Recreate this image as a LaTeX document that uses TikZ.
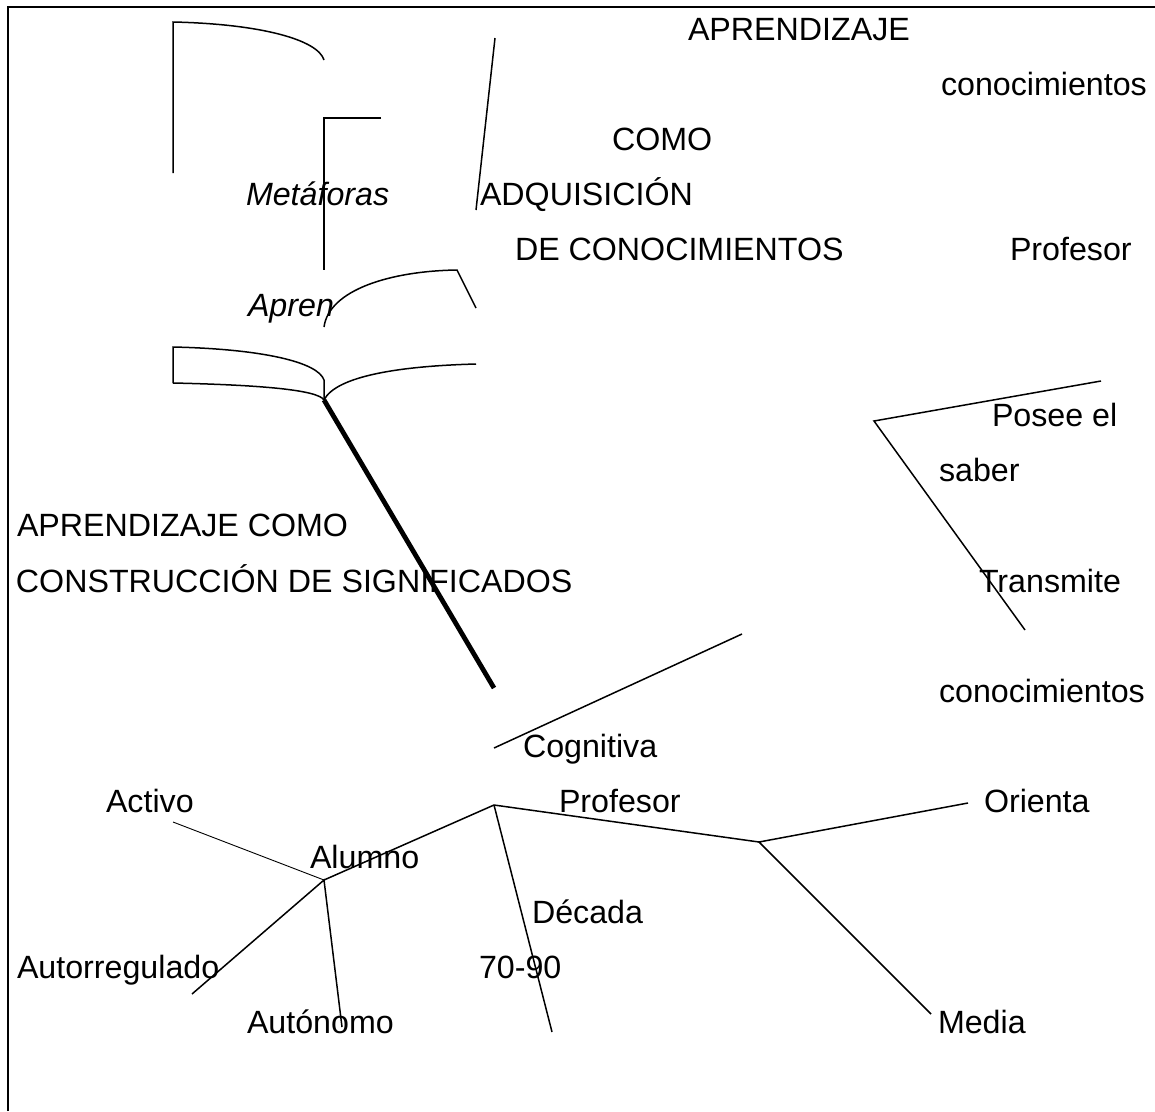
\documentclass[tikz,border=0pt]{standalone}
\usepackage{fontspec}
\setmainfont{Liberation Sans}
\begin{document}
\begin{tikzpicture}[x=1pt,y=-1pt,
  lbl/.style={anchor=base west,inner sep=0pt,outer sep=0pt,font=\fontsize{32.2}{38}\selectfont},
  ilbl/.style={lbl,font=\fontsize{32.2}{38}\selectfont\itshape},
  ln/.style={line width=1.5pt,line join=miter},
  fine/.style={line width=0.9pt},
  heavy/.style={line width=4.8pt},
  frame/.style={line width=2.4pt}]
\useasboundingbox (0,0) rectangle (1155,1111);

% ---- labels ----
\node[lbl]  (aprTop)   at (688,40)     {APRENDIZAJE};
\node[lbl]  (conTop)   at (941,95.2)   {conocimientos};
\node[lbl]  (como)     at (612,150.4)  {COMO};
\node[ilbl] (metaf)    at (246,205.6)  {Metáforas};
\node[lbl]  (adq)      at (480,205.6)  {ADQUISICIÓN};
\node[lbl]  (decon)    at (515,260.8)  {DE CONOCIMIENTOS};
\node[lbl]  (profTop)  at (1010,260.8) {Profesor};
\node[ilbl] (apren)    at (248,316)    {Apren};
\node[lbl]  (posee)    at (992,426.4)  {Posee el};
\node[lbl]  (saber)    at (939,481.6)  {saber};
\node[lbl]  (aprCons)  at (17,536.8)   {APRENDIZAJE COMO};
\node[lbl]  (constr)   at (16,592)     {CONSTRUCCIÓN DE SIGNIFICADOS};
\node[lbl]  (transm)   at (979,592)    {Transmite};
\node[lbl]  (conLow)   at (939,702.4)  {conocimientos};
\node[lbl]  (cogn)     at (523,757.6)  {Cognitiva};
\node[lbl]  (activo)   at (106,812.8)  {Activo};
\node[lbl]  (profLow)  at (559,812.8)  {Profesor};
\node[lbl]  (orienta)  at (984,812.8)  {Orienta};
\node[lbl]  (alumno)   at (310,868)    {Alumno};
\node[lbl]  (decada)   at (532,923.2)  {Década};
\node[lbl]  (autorreg) at (17,978.4)   {Autorregulado};
\node[lbl]  (anios)    at (479,978.4)  {70-90};
\node[lbl]  (auton)    at (247,1033.6) {Autónomo};
\node[lbl]  (media)    at (938,1033.6) {Media};

% ---- frame (left and top edges) ----
\coordinate (fBL) at (8,1111);
\coordinate (fTL) at (8,7);
\coordinate (fTR) at (1155,7);
\draw[frame] (fBL) -- (fTL) -- (fTR);

% ---- upper left brace pieces ----
\coordinate (b1a) at (173,173);
\coordinate (b1b) at (173,22);
\coordinate (b1c) at (324,60);
\draw[ln] (b1a) -- (b1b) .. controls (262,24) and (318,40) .. (b1c);

\coordinate (b2a) at (381,118);
\coordinate (b2b) at (324,118);
\coordinate (b2c) at (324,270);
\draw[ln] (b2a) -- (b2b) -- (b2c);

\coordinate (sl1) at (495,38);
\coordinate (sl2) at (476,210);
\draw[ln] (sl1) -- (sl2);

\coordinate (c3a) at (324,327);
\coordinate (c3b) at (457,270);
\coordinate (c3c) at (476,308);
\draw[ln] (c3a) .. controls (329,290) and (390,271) .. (c3b) -- (c3c);

% ---- open book ----
\coordinate (bkTL) at (173,347);
\coordinate (bkBL) at (173,383);
\coordinate (bkTM) at (324,380);
\coordinate (bkBM) at (324,400);
\coordinate (bkR)  at (476,364);
\draw[ln] (bkBL) -- (bkTL) .. controls (262,349) and (318,362) .. (bkTM) -- (bkBM);
\draw[ln] (bkBL) .. controls (262,385) and (318,390) .. (bkBM);
\draw[ln] (bkBM) .. controls (336,376) and (400,366) .. (bkR);

% ---- heavy stem ----
\coordinate (stemEnd) at (494,688);
\draw[heavy] (bkBM) -- (stemEnd);

% ---- right wedge ----
\coordinate (wA) at (1101,381);
\coordinate (wV) at (874,421);
\coordinate (wB) at (1025,630);
\draw[ln] (wA) -- (wV) -- (wB);

% ---- lower tree ----
\coordinate (cogA) at (494,748);
\coordinate (cogB) at (742,634);
\draw[ln] (cogA) -- (cogB);

\coordinate (hub)  at (494,805);
\coordinate (alu)  at (324,880);
\coordinate (prof) at (759,842);
\coordinate (dec)  at (552,1032);
\draw[ln] (alu) -- (hub) -- (prof);
\draw[ln] (hub) -- (dec);

\coordinate (ori) at (968,803);
\coordinate (med) at (931,1014);
\draw[ln] (ori) -- (prof) -- (med);

\coordinate (act) at (173,822);
\coordinate (aut) at (192,994);
\coordinate (ato) at (342,1027);
\draw[fine] (act) -- (alu);
\draw[ln] (aut) -- (alu) -- (ato);
\end{tikzpicture}
\end{document}
